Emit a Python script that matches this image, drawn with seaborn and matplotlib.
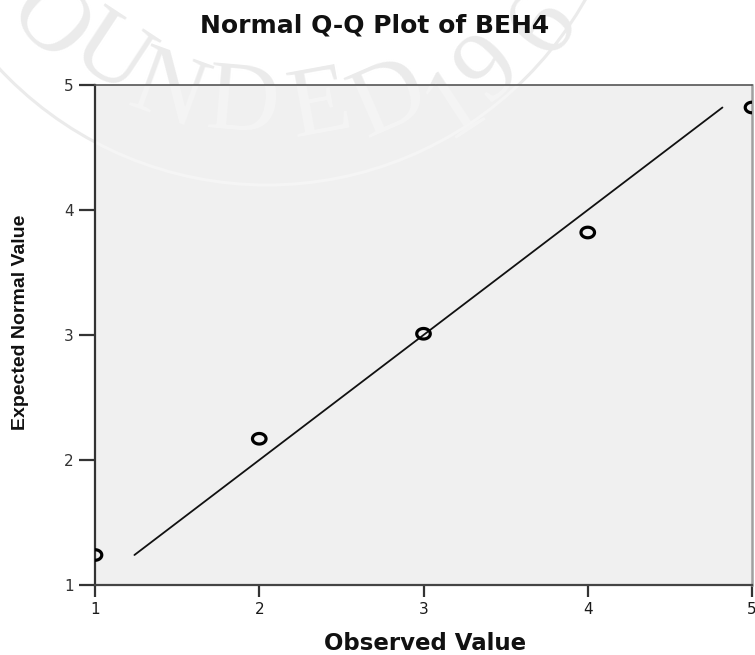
import numpy as np
import pandas as pd
import matplotlib
matplotlib.use("Agg")
import matplotlib.pyplot as plt
from matplotlib import font_manager
from matplotlib.path import Path
from matplotlib.patches import Circle
from matplotlib.transforms import Affine2D
import seaborn as sns

# Q-Q data for BEH4
observed = [1, 2, 3, 4, 5]
expected = [1.24, 2.17, 3.01, 3.82, 4.82]
x_ticks = [1, 2, 3, 4, 5]
y_ticks = [1, 2, 3, 4, 5]
title = "Normal Q-Q Plot of BEH4"
x_label = "Observed Value"
y_label = "Expected Normal Value"

sns.set_style("white", {"axes.facecolor": "#f0f0f0"})
plt.rcParams["font.family"] = ["DejaVu Sans"]

W, H = 755, 655
fig = plt.figure(figsize=(W / 100, H / 100), dpi=100)
fig.patch.set_facecolor("white")
ax = fig.add_axes([95 / W, 1 - 585 / H, 657 / W, 500 / H])

# pixel coordinates (origin top-left) -> figure
px = Affine2D().scale(1 / W, -1 / H).translate(0, 1) + fig.transFigure

# faint seal watermark behind the chart
seal_center, seal_radius = (267, -181), 366
seal_letters = [("O", 47, 25), ("U", 110, 57), ("N", 167, 93), ("D", 242, 106),
                ("E", 320, 108), ("D", 390, 102), ("1", 455, 105), ("9", 490, 70),
                ("6", 545, 25)]


def draw_seal(color, zorder, clip):
    ring = Circle(seal_center, seal_radius, fill=False, lw=2.2, ec=color,
                  transform=px, zorder=zorder)
    if clip:
        ax.add_patch(ring)
        ring.set_transform(px)
        ring.set_clip_path(ax.patch)
    else:
        fig.add_artist(ring)
    for ch, lx, ly in seal_letters:
        theta = np.degrees(np.arctan2(ly - seal_center[1], lx - seal_center[0]))
        kw = dict(transform=px, rotation=90 - theta, rotation_mode="anchor",
                  ha="center", va="center", fontsize=72, color=color,
                  family=["Liberation Serif", "DejaVu Serif"], zorder=zorder)
        if clip:
            ax.text(lx, ly, ch, clip_on=True, **kw)
        else:
            fig.text(lx, ly, ch, **kw)


draw_seal("#ebebeb", -1, clip=False)
draw_seal("#f5f5f5", 0.5, clip=True)

df = pd.DataFrame({"Observed": observed, "Expected": expected})
lo, hi = min(expected), max(expected)
ref = pd.DataFrame({"x": [lo, hi], "y": [lo, hi]})

sns.lineplot(data=ref, x="x", y="y", ax=ax, color="#111111", lw=1.3, zorder=3)

t = np.linspace(0, 2 * np.pi, 60)
ring_marker = Path(np.column_stack([np.cos(t), 0.78 * np.sin(t)]), closed=True)
sns.scatterplot(data=df, x="Observed", y="Expected", ax=ax, marker=ring_marker,
                s=95, linewidth=2.3, zorder=4)
pts = ax.collections[-1]
pts.set_facecolor("none")
pts.set_edgecolor("black")

ax.set_xlim(1, 5)
ax.set_ylim(1, 5)
ax.set_xticks(x_ticks)
ax.set_yticks(y_ticks)
ax.set_xticklabels([str(v) for v in x_ticks])
ax.set_yticklabels([str(v) for v in y_ticks])
ax.set_xlabel("")
ax.set_ylabel("")

ax.tick_params(axis="x", bottom=True, direction="out", length=8.6, width=1.6,
               color="#333333", labelsize=11, labelcolor="#1a1a1a", pad=4)
ax.tick_params(axis="y", left=True, direction="out", length=11.5, width=1.6,
               color="#333333", labelsize=11, labelcolor="#333333", pad=4)

for side, col, lw in [("left", "#333333", 1.6), ("bottom", "#444444", 1.6),
                      ("top", "#555555", 1.2), ("right", "#a0a0a0", 1.8)]:
    ax.spines[side].set_visible(True)
    ax.spines[side].set_color(col)
    ax.spines[side].set_linewidth(lw)

fig.text(375 / W, 1 - 25 / H, title, ha="center", va="center", fontsize=18,
         fontweight="bold", color="#111111")
fig.text(425 / W, 1 - 643 / H, x_label, ha="center", va="center", fontsize=16.5,
         fontweight="bold", color="#111111")

try:
    font_manager.findfont(font_manager.FontProperties(family="Liberation Sans Narrow",
                                                      weight="bold"),
                          fallback_to_default=False)
    ylab_family, ylab_size = ["Liberation Sans Narrow"], 16.5
except ValueError:
    ylab_family, ylab_size = ["Liberation Sans"], 14
fig.text(21 / W, 1 - 322 / H, y_label, rotation=90, ha="center", va="center",
         fontsize=ylab_size, fontweight="bold", family=ylab_family, color="#111111")

fig.savefig("out.png", dpi=100)
